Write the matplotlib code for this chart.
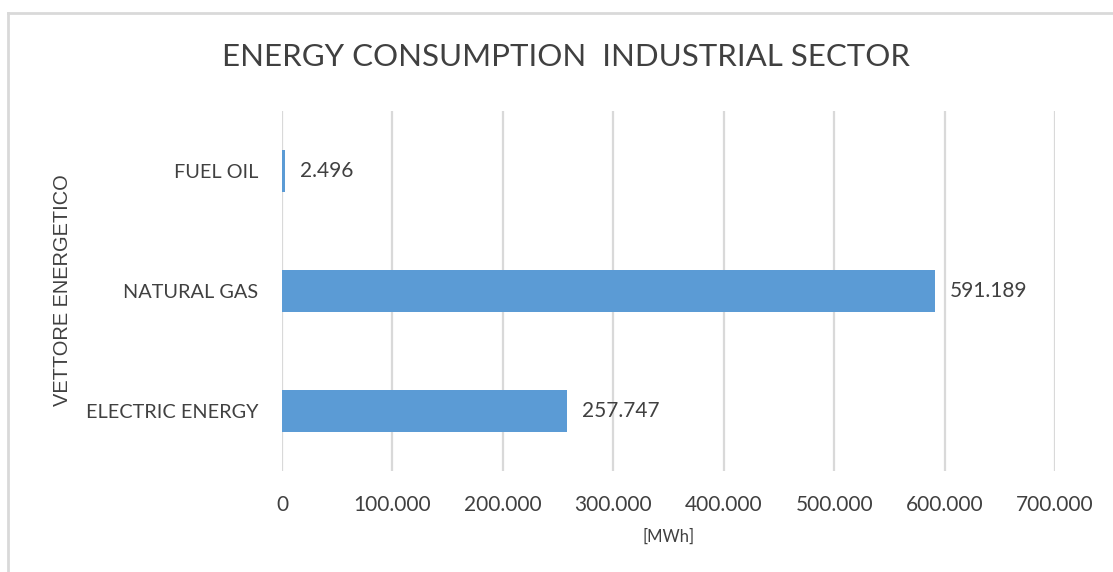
import matplotlib
matplotlib.use('Agg')
import matplotlib.pyplot as plt
from matplotlib.lines import Line2D
from matplotlib.ticker import FuncFormatter

# energy carriers, bottom to top
categories = ['ELECTRIC ENERGY', 'NATURAL GAS', 'FUEL OIL']
consumption_mwh = [257747, 591189, 2496]
x_ticks = [0, 100000, 200000, 300000, 400000, 500000, 600000, 700000]

text_grey = '#404040'
bar_blue = '#5B9BD5'
grid_grey = '#D9D9D9'


def it_thousands(v, pos=None):
    # Italian style thousands separator: 591189 -> 591.189
    return f'{int(round(v)):,}'.replace(',', '.')


fig = plt.figure(figsize=(11.13, 5.72), dpi=100)
ax = fig.add_axes([282 / 1113, 1 - 471 / 572, (1055 - 282) / 1113, 360 / 572])

bars = ax.barh(categories, consumption_mwh, height=0.35, color=bar_blue,
               linewidth=0, zorder=3)

ax.set_xlim(0, 700000)
ax.set_ylim(-0.5, 2.5)
ax.set_xticks(x_ticks)
ax.xaxis.set_major_formatter(FuncFormatter(it_thousands))
ax.grid(axis='x', color=grid_grey, linewidth=1.6, zorder=0)
ax.tick_params(axis='both', length=0, colors=text_grey)
ax.tick_params(axis='x', pad=17, labelsize=15)
ax.tick_params(axis='y', pad=17, labelsize=14.3)
for lbl in ax.get_xticklabels() + ax.get_yticklabels():
    lbl.set_fontfamily('Lato')
for s in ax.spines.values():
    s.set_visible(False)

# value labels right of each bar
for rect, val in zip(bars, consumption_mwh):
    ax.annotate(it_thousands(val), (rect.get_width(), rect.get_y() + rect.get_height() / 2),
                xytext=(11, 0), textcoords='offset points', va='center', ha='left',
                fontsize=15, family='Lato', color=text_grey)

ax.set_xlabel('[MWh]', fontsize=12, family='Lato', color=text_grey, labelpad=10)

fig.text(566 / 1113, 1 - 57 / 572, 'ENERGY CONSUMPTION  INDUSTRIAL SECTOR',
         ha='center', va='center', fontsize=22.5, family='Lato', color=text_grey)
fig.text(62 / 1113, 1 - 290 / 572, 'VETTORE ENERGETICO', rotation=90,
         ha='center', va='center', fontsize=14.4, family='Liberation Sans', color=text_grey)

# chart area border (left and top edges show)
fig.add_artist(Line2D([8 / 1113, 8 / 1113], [0, 1 - 13 / 572], color=grid_grey, lw=2))
fig.add_artist(Line2D([8 / 1113, 1], [1 - 13 / 572, 1 - 13 / 572], color=grid_grey, lw=2))

fig.savefig('out.png', dpi=100, facecolor='white')
